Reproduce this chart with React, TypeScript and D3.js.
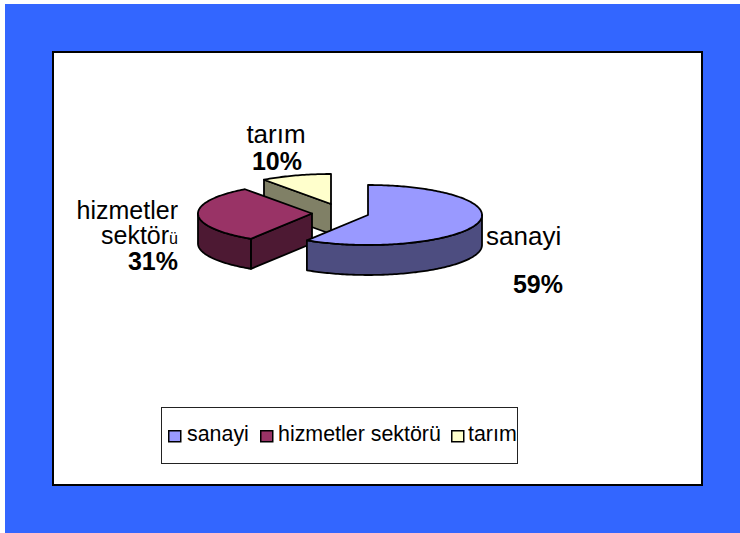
import React from "react";
import * as d3 from "d3";

const categories = ["sanayi", "hizmetler sektörü", "tarım"];
const values = [59, 31, 10];
const topColors = ["#9999FF", "#993366", "#FFFFCC"];
const sideColors = ["#4D4D80", "#4D1933", "#808066"];
const pieCentres: [number, number][] = [[368, 215], [312, 213.5], [331, 204]];

const RX = 114;
const RY = 30;
const DEPTH = 30;
const FONT = "'Liberation Sans', Arial, sans-serif";

const slices = d3.pie<number>().sort(null)(values);
const line = d3.line<[number, number]>().curve(d3.curveLinear);

function pt(i: number, a: number, dz = 0): [number, number] {
  const [cx, cy] = pieCentres[i];
  return [cx + RX * Math.sin(a), cy - RY * Math.cos(a) + dz];
}
function rim(i: number, a0: number, a1: number, dz = 0): [number, number][] {
  const n = Math.max(2, Math.ceil(Math.abs(a1 - a0) / 0.02));
  return d3.range(n + 1).map((k) => pt(i, a0 + ((a1 - a0) * k) / n, dz));
}

function Slice({ i }: { i: number }) {
  const s = slices[i];
  const [cx, cy] = pieCentres[i];
  const c: [number, number] = [cx, cy];
  const walls: string[] = [];
  const radial = (a: number) =>
    walls.push(line([c, pt(i, a), pt(i, a, DEPTH), [cx, cy + DEPTH]])! + "Z");
  if (Math.sin(s.startAngle) < -1e-6) radial(s.startAngle);
  if (Math.sin(s.endAngle) > 1e-6) radial(s.endAngle);
  const f0 = Math.max(s.startAngle, Math.PI / 2);
  const f1 = Math.min(s.endAngle, (3 * Math.PI) / 2);
  if (f1 > f0) {
    walls.push(line([...rim(i, f0, f1), ...rim(i, f1, f0, DEPTH)])! + "Z");
  }
  const top = line([c, ...rim(i, s.startAngle, s.endAngle)])! + "Z";
  return (
    <g stroke="#000" strokeWidth={1.8} strokeLinejoin="round">
      {walls.map((d, k) => (
        <path key={k} d={d} fill={sideColors[i]} />
      ))}
      <path d={top} fill={topColors[i]} />
    </g>
  );
}

const legendX = [168, 260, 451];
const legendTextX = [187, 278, 468];

export default function App() {
  const pct = (i: number) => `${values[i]}%`;
  return (
    <svg
      width={740}
      height={533}
      style={{ position: "absolute", left: 0, top: 0, display: "block" }}
      fontFamily={FONT}
    >
      <rect x={0} y={0} width={740} height={533} fill="#fff" />
      <rect x={5} y={4} width={735} height={529} fill="#3366FF" />
      <rect x={53} y={52} width={649} height={433} fill="#fff" stroke="#000" strokeWidth={2} />

      <Slice i={2} />
      <Slice i={1} />
      <Slice i={0} />

      <g fontSize={25} fill="#000">
        <text x={486} y={245} fontSize={26}>{categories[0]}</text>
        <text x={563} y={293} textAnchor="end" fontWeight="bold">{pct(0)}</text>
        <text x={178} y={219} textAnchor="end">hizmetler</text>
        <text x={178} y={244} textAnchor="end">
          sektör<tspan fontSize={16}>ü</tspan>
        </text>
        <text x={178} y={270} textAnchor="end" fontWeight="bold">{pct(1)}</text>
        <text x={276} y={143} textAnchor="middle" fontSize={26}>{categories[2]}</text>
        <text x={277} y={170} textAnchor="middle" fontWeight="bold">{pct(2)}</text>
      </g>

      <rect x={161.5} y={407.5} width={356} height={56} fill="#fff" stroke="#222" strokeWidth={1} />
      {categories.map((c, i) => (
        <g key={c}>
          <rect x={legendX[i] + 0.75} y={430.75} width={12} height={11} fill={topColors[i]} stroke="#000" strokeWidth={1.5} />
          <text x={legendTextX[i]} y={441} fontSize={21.4} fill="#000">{c}</text>
        </g>
      ))}
    </svg>
  );
}
